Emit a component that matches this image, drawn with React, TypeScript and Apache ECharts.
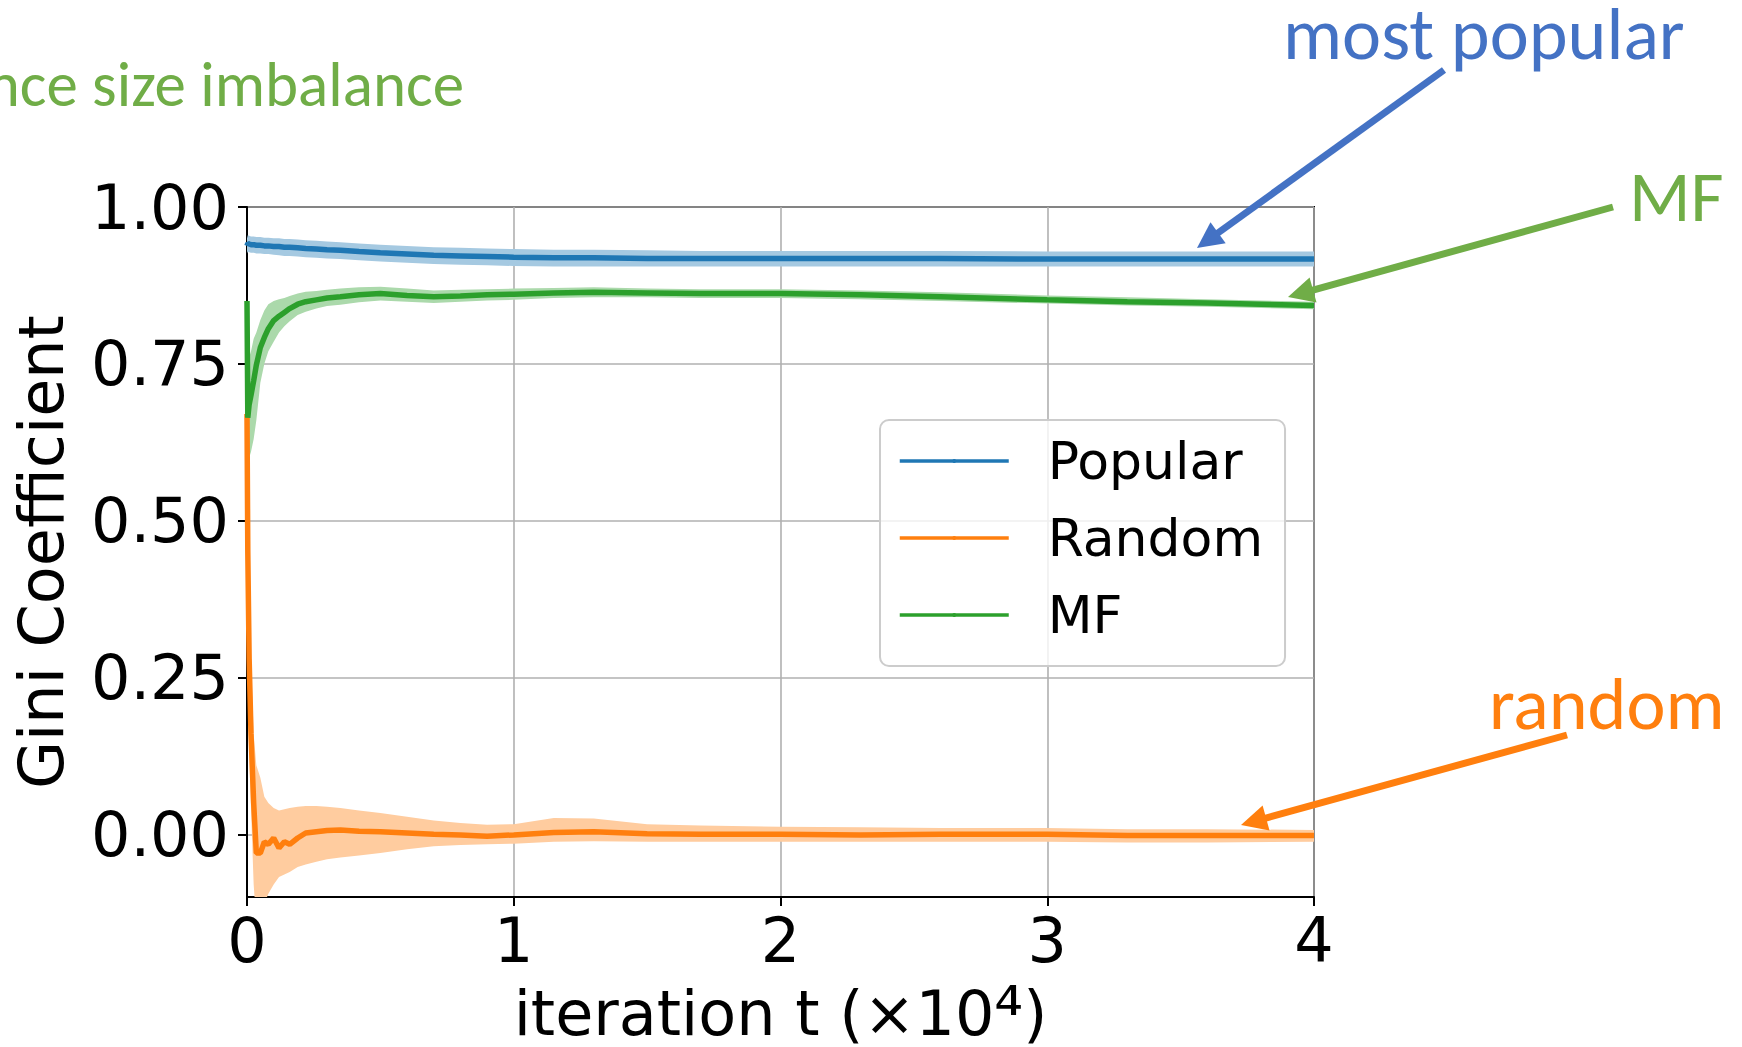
import React, { useEffect, useRef } from "react";
import * as echarts from "echarts";

// iteration t (x 10^4)
const ITER = [0, 0.003, 0.008, 0.015, 0.025, 0.035, 0.05, 0.065, 0.08, 0.1, 0.12, 0.14, 0.16, 0.19, 0.22, 0.26, 0.3, 0.35, 0.42, 0.5, 0.6, 0.7, 0.8, 0.9, 1.0, 1.15, 1.3, 1.5, 1.7, 2.0, 2.3, 2.6, 3.0, 3.3, 3.6, 4.0];

const POP_MEAN = [0.938, 0.942, 0.941, 0.940, 0.940, 0.939, 0.939, 0.938, 0.938, 0.937, 0.937, 0.936, 0.936, 0.935, 0.934, 0.933, 0.932, 0.931, 0.929, 0.927, 0.925, 0.923, 0.922, 0.921, 0.920, 0.919, 0.919, 0.918, 0.918, 0.918, 0.918, 0.918, 0.917, 0.917, 0.917, 0.917];
const POP_HI = [0.950, 0.955, 0.954, 0.953, 0.953, 0.952, 0.952, 0.951, 0.951, 0.950, 0.950, 0.949, 0.949, 0.948, 0.947, 0.946, 0.945, 0.944, 0.942, 0.940, 0.938, 0.936, 0.935, 0.934, 0.933, 0.932, 0.932, 0.931, 0.930, 0.930, 0.930, 0.930, 0.929, 0.929, 0.929, 0.929];
const POP_LO = [0.926, 0.929, 0.928, 0.927, 0.927, 0.926, 0.926, 0.925, 0.925, 0.924, 0.923, 0.922, 0.922, 0.921, 0.920, 0.919, 0.918, 0.917, 0.915, 0.913, 0.911, 0.909, 0.908, 0.907, 0.906, 0.905, 0.905, 0.905, 0.905, 0.905, 0.905, 0.905, 0.905, 0.905, 0.905, 0.905];

const RND_MEAN = [0.670, 0.450, 0.280, 0.160, 0.050, -0.030, -0.030, -0.012, -0.016, -0.006, -0.022, -0.012, -0.016, -0.006, 0.002, 0.004, 0.006, 0.007, 0.005, 0.004, 0.002, 0.000, -0.001, -0.003, -0.001, 0.003, 0.004, 0.001, 0.000, 0.000, -0.001, 0.000, 0.000, -0.002, -0.002, -0.002];
const RND_HI = [0.670, 0.600, 0.420, 0.280, 0.160, 0.110, 0.090, 0.060, 0.050, 0.042, 0.038, 0.040, 0.042, 0.044, 0.045, 0.045, 0.044, 0.042, 0.038, 0.034, 0.028, 0.022, 0.018, 0.015, 0.016, 0.026, 0.025, 0.016, 0.014, 0.012, 0.011, 0.010, 0.010, 0.008, 0.008, 0.007];
const RND_LO = [0.670, 0.300, 0.140, 0.040, -0.080, -0.140, -0.130, -0.110, -0.095, -0.080, -0.068, -0.064, -0.060, -0.052, -0.048, -0.044, -0.040, -0.037, -0.034, -0.030, -0.024, -0.019, -0.017, -0.016, -0.015, -0.012, -0.011, -0.012, -0.012, -0.012, -0.012, -0.012, -0.012, -0.013, -0.013, -0.012];

const MF_MEAN = [0.850, 0.664, 0.685, 0.700, 0.723, 0.748, 0.776, 0.792, 0.806, 0.819, 0.826, 0.832, 0.838, 0.845, 0.849, 0.852, 0.855, 0.857, 0.860, 0.862, 0.859, 0.857, 0.858, 0.860, 0.861, 0.863, 0.864, 0.863, 0.862, 0.862, 0.860, 0.857, 0.852, 0.849, 0.847, 0.843];
const MF_HI = [0.860, 0.740, 0.760, 0.770, 0.790, 0.800, 0.820, 0.835, 0.845, 0.850, 0.853, 0.855, 0.858, 0.862, 0.865, 0.866, 0.868, 0.870, 0.872, 0.873, 0.870, 0.867, 0.868, 0.869, 0.870, 0.871, 0.872, 0.870, 0.869, 0.869, 0.867, 0.864, 0.859, 0.856, 0.853, 0.849];
const MF_LO = [0.840, 0.580, 0.600, 0.610, 0.630, 0.660, 0.720, 0.750, 0.770, 0.785, 0.800, 0.810, 0.818, 0.828, 0.833, 0.838, 0.842, 0.844, 0.848, 0.851, 0.849, 0.847, 0.849, 0.851, 0.852, 0.855, 0.856, 0.856, 0.855, 0.855, 0.853, 0.850, 0.846, 0.843, 0.841, 0.837];

const Y_TICKS = [0, 0.25, 0.5, 0.75, 1.0];
const LEGEND_NAMES = ["Popular", "Random", "MF"];

const LINE_COLORS = ["#1f77b4", "#ff7f0e", "#2ca02c"];
const BAND_COLORS = ["#a5c9e1", "#ffcc9f", "#abd9ab"];

const TICK_FONT = "DejaVu Sans";
const NOTE_FONT = "Carlito, Lato, sans-serif";

function bandSeries(name: string, lo: number[], hi: number[], color: string) {
  return {
    type: "custom",
    name: name + " band",
    silent: true,
    z: 1,
    data: ITER.map((t, i) => [t, lo[i], hi[i]]),
    encode: { x: 0, y: [1, 2] },
    renderItem: (params: any, api: any) => {
      if (params.dataIndex !== 0) return null;
      const upper = ITER.map((t, i) => api.coord([t, hi[i]]));
      const lower = ITER.map((t, i) => api.coord([t, lo[i]])).reverse();
      const cs = params.coordSys;
      return {
        type: "polygon",
        shape: { points: upper.concat(lower) },
        style: { fill: color, stroke: null },
        clipPath: { type: "rect", shape: { x: cs.x, y: cs.y, width: cs.width, height: cs.height } },
      };
    },
  };
}

function lineSeries(name: string, mean: number[], color: string) {
  return {
    type: "line",
    name,
    data: ITER.map((t, i) => [t, mean[i]]),
    symbol: "none",
    showSymbol: false,
    clip: true,
    z: 3,
    lineStyle: { color, width: 5.5 },
    itemStyle: { color },
  };
}

function arrow(x1: number, y1: number, x2: number, y2: number, color: string) {
  const dx = x2 - x1;
  const dy = y2 - y1;
  const L = Math.hypot(dx, dy);
  const ux = dx / L;
  const uy = dy / L;
  const hl = 26;
  const hw = 13;
  const bx = x2 - ux * hl;
  const by = y2 - uy * hl;
  return [
    {
      type: "line",
      z: 100,
      shape: { x1, y1, x2: bx + ux * 2, y2: by + uy * 2 },
      style: { stroke: color, lineWidth: 7 },
    },
    {
      type: "polygon",
      z: 100,
      shape: { points: [[x2, y2], [bx - uy * hw, by + ux * hw], [bx + uy * hw, by - ux * hw]] },
      style: { fill: color },
    },
  ];
}

function note(text: string, x: number, y: number, color: string, size: number, align = "left") {
  return {
    type: "text",
    z: 100,
    x,
    y,
    style: {
      text,
      fill: color,
      fontSize: size,
      fontFamily: NOTE_FONT,
      align,
      verticalAlign: "middle",
      lineHeight: Math.round(size * 0.8),
    },
  };
}

export default function App() {
  const ref = useRef<HTMLDivElement>(null);

  useEffect(() => {
    if (!ref.current) return;
    const chart = echarts.init(ref.current, null, { renderer: "svg" });

    const means = [POP_MEAN, RND_MEAN, MF_MEAN];
    const los = [POP_LO, RND_LO, MF_LO];
    const his = [POP_HI, RND_HI, MF_HI];

    const series: any[] = [];
    LEGEND_NAMES.forEach((n, k) => series.push(bandSeries(n, los[k], his[k], BAND_COLORS[k])));
    LEGEND_NAMES.forEach((n, k) => series.push(lineSeries(n, means[k], LINE_COLORS[k])));

    const option: any = {
      animation: false,
      backgroundColor: "#ffffff",
      grid: {
        left: 247,
        top: 207,
        width: 1067,
        height: 690,
        show: true,
        borderColor: "#000000",
        borderWidth: 2,
        backgroundColor: "transparent",
        containLabel: false,
        outerBoundsMode: "none",
      },
      xAxis: {
        type: "value",
        min: 0,
        max: 4,
        interval: 1,
        name: "iteration t (×10{sup|⁴})",
        nameLocation: "middle",
        nameGap: 86,
        nameMoveOverlap: false,
        nameTextStyle: {
          fontSize: 62,
          lineHeight: 60,
          fontFamily: TICK_FONT,
          color: "#000",
          rich: {
            sup: { fontSize: 72, lineHeight: 60, fontFamily: TICK_FONT, color: "#000" },
          },
        },
        axisLine: { show: true, onZero: false, lineStyle: { color: "#000", width: 2 } },
        axisTick: { show: true, length: 9, lineStyle: { color: "#000", width: 2 } },
        axisLabel: { fontSize: 62, fontFamily: TICK_FONT, color: "#000", margin: 12 },
        splitLine: { show: true, lineStyle: { color: "#b0b0b0", width: 1.6 } },
      },
      yAxis: {
        type: "value",
        min: -0.1,
        max: 1.0,
        name: "Gini Coefficient",
        nameLocation: "middle",
        nameGap: 175,
        nameMoveOverlap: false,
        nameTextStyle: { fontSize: 62, fontFamily: TICK_FONT, color: "#000" },
        axisLine: { show: true, onZero: false, lineStyle: { color: "#000", width: 2 } },
        axisTick: { show: true, length: 9, customValues: Y_TICKS, lineStyle: { color: "#000", width: 2 } },
        axisLabel: {
          fontSize: 62,
          fontFamily: TICK_FONT,
          color: "#000",
          margin: 18,
          customValues: Y_TICKS,
          formatter: (v: number) => v.toFixed(2),
        },
        splitLine: { show: true, lineStyle: { color: "#b0b0b0", width: 1.6 } },
      },
      legend: {
        data: LEGEND_NAMES,
        orient: "vertical",
        left: 880,
        top: 420,
        padding: [11, 18, 21, 18],
        itemWidth: 109,
        itemHeight: 5,
        itemGap: 17,
        selectedMode: false,
        backgroundColor: "rgba(255,255,255,0.8)",
        borderColor: "#cccccc",
        borderWidth: 2,
        borderRadius: 9,
        lineStyle: { width: 3.5 },
        textStyle: { fontSize: 52, fontFamily: TICK_FONT, color: "#000", padding: [0, 4, 0, 34], lineHeight: 60 },
      },
      graphic: [
        note("most popular", 1283, 34, "#4472C4", 74),
        note("MF", 1629, 196, "#70AD47", 72),
        note("random", 1489, 704, "#ff7f0e", 74),
        note("nce size imbalance", 464, 84, "#70AD47", 63, "right"),
        ...arrow(1444, 70, 1197, 248, "#4472C4"),
        ...arrow(1613, 207, 1288, 297, "#70AD47"),
        ...arrow(1567, 735, 1241, 825, "#ff7f0e"),
      ],
      series,
    };

    chart.setOption(option);
    return () => chart.dispose();
  }, []);

  return (
    <div
      ref={ref}
      style={{ position: "fixed", left: 0, top: 0, width: 1742, height: 1047, background: "#fff" }}
    />
  );
}
